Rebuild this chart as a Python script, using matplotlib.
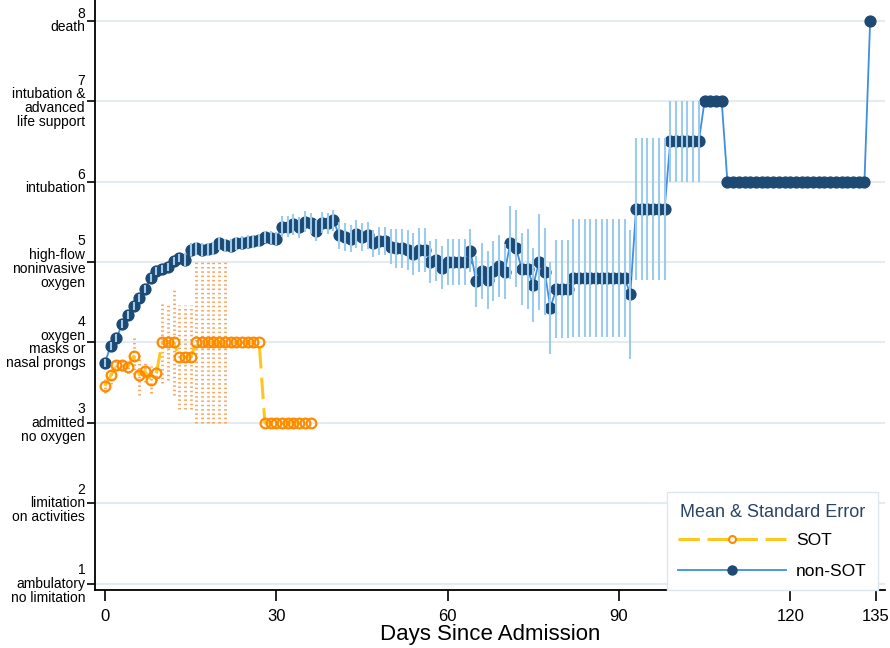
import matplotlib
matplotlib.use('Agg')
import matplotlib.pyplot as plt
from matplotlib.lines import Line2D

plt.rcParams['font.family'] = ['Liberation Sans', 'DejaVu Sans']

# y scale labels
levels = [1, 2, 3, 4, 5, 6, 7, 8]
level_names = ['ambulatory\nno limitation', 'limitation\non activities',
               'admitted\nno oxygen', 'oxygen\nmasks or\nnasal prongs',
               'high-flow\nnoninvasive\noxygen', 'intubation',
               'intubation &\nadvanced\nlife support', 'death']
xticks = [0, 30, 60, 90, 120, 135]

# SOT group: day, mean, standard error
sot_days = list(range(0, 37))
sot_mean = [3.46, 3.59, 3.72, 3.72, 3.70, 3.83, 3.60, 3.64, 3.54, 3.62,
            4.00, 4.00, 4.00, 3.82, 3.82, 3.82, 4.00, 4.00, 4.00, 4.00,
            4.00, 4.00, 4.00, 4.00, 4.00, 4.00, 4.00, 4.00, 3.00, 3.00,
            3.00, 3.00, 3.00, 3.00, 3.00, 3.00, 3.00]
sot_se = [0.09, 0.10, 0.08, 0.08, 0.08, 0.22, 0.25, 0.13, 0.17, 0.10,
          0.50, 0.47, 0.65, 0.65, 0.65, 0.65, 1.00, 1.00, 1.00, 1.00,
          1.00, 1.00, 0, 0, 0, 0, 0, 0, 0, 0,
          0, 0, 0, 0, 0, 0, 0]

# non-SOT group
non_days = list(range(0, 135))
non_mean = [3.75, 3.96, 4.05, 4.23, 4.34, 4.45, 4.55, 4.66, 4.80, 4.89,
            4.91, 4.94, 5.01, 5.05, 5.03, 5.15, 5.17, 5.15, 5.16, 5.17,
            5.23, 5.21, 5.20, 5.23, 5.24, 5.25, 5.26, 5.27, 5.31, 5.30,
            5.29, 5.44, 5.44, 5.47, 5.43, 5.50, 5.48, 5.39, 5.49, 5.48,
            5.52, 5.33, 5.31, 5.29, 5.35, 5.31, 5.33, 5.23, 5.26, 5.26,
            5.19, 5.17, 5.17, 5.15, 5.10, 5.15, 5.15, 5.00, 5.03, 4.93,
            5.00, 5.00, 5.00, 5.00, 5.14, 4.76, 4.89, 4.78, 4.89, 4.95,
            4.88, 5.24, 5.17, 4.91, 4.91, 4.71, 5.00, 4.88, 4.43, 4.66,
            4.66, 4.66, 4.80, 4.80, 4.80, 4.80, 4.80, 4.80, 4.80, 4.80,
            4.80, 4.80, 4.60, 5.66, 5.66, 5.66, 5.66, 5.66, 5.66, 6.50,
            6.50, 6.50, 6.50, 6.50, 6.50, 7.00, 7.00, 7.00, 7.00, 6.00,
            6.00, 6.00, 6.00, 6.00, 6.00, 6.00, 6.00, 6.00, 6.00, 6.00,
            6.00, 6.00, 6.00, 6.00, 6.00, 6.00, 6.00, 6.00, 6.00, 6.00,
            6.00, 6.00, 6.00, 6.00, 8.00]
non_se = [0.05, 0.05, 0.05, 0.05, 0.05, 0.05, 0.05, 0.05, 0.05, 0.05,
          0.05, 0.05, 0.05, 0.05, 0.08, 0.08, 0.08, 0.08, 0.08, 0.08,
          0.08, 0.08, 0.08, 0.08, 0.08, 0.08, 0.08, 0.08, 0.08, 0.08,
          0.08, 0.13, 0.13, 0.13, 0.13, 0.13, 0.13, 0.13, 0.13, 0.13,
          0.13, 0.17, 0.17, 0.17, 0.17, 0.17, 0.17, 0.17, 0.17, 0.17,
          0.22, 0.24, 0.24, 0.25, 0.26, 0.27, 0.27, 0.26, 0.26, 0.27,
          0.28, 0.28, 0.28, 0.28, 0.27, 0.32, 0.35, 0.36, 0.37, 0.39,
          0.34, 0.45, 0.48, 0.45, 0.50, 0.46, 0.60, 0.54, 0.57, 0.61,
          0.61, 0.61, 0.73, 0.73, 0.73, 0.73, 0.73, 0.73, 0.73, 0.73,
          0.73, 0.73, 0.80, 0.88, 0.88, 0.88, 0.88, 0.88, 0.88, 0.50,
          0.50, 0.50, 0.50, 0.50, 0.50, 0, 0, 0, 0, 0,
          0, 0, 0, 0, 0, 0, 0, 0, 0, 0,
          0, 0, 0, 0, 0, 0, 0, 0, 0, 0,
          0, 0, 0, 0, 0]

fig = plt.figure(figsize=(8.9, 6.48), dpi=100)
ax = fig.add_axes([95 / 890, 1 - 590 / 648, 790 / 890, 590 / 648])

for lv in levels:
    ax.axhline(lv, color='#e4ecf1', lw=1.5, zorder=0)

# SOT
sot_lo = [m - s for m, s in zip(sot_mean, sot_se)]
sot_hi = [m + s for m, s in zip(sot_mean, sot_se)]
ax.vlines(sot_days, sot_lo, sot_hi, colors='#f7a660', lw=2.0,
          linestyles=(0, (0.55, 1.0)), zorder=2)
ax.plot(sot_days, sot_mean, color='#ffc61e', lw=2.2, dashes=(7, 3),
        marker='o', ms=7, mfc='none', mec='#ff8a00', mew=1.6, zorder=4)

# non-SOT
non_lo = [m - s for m, s in zip(non_mean, non_se)]
non_hi = [m + s for m, s in zip(non_mean, non_se)]
ax.plot(non_days, non_mean, color='#3d8fe0', lw=1.3, marker='o', ms=7.8,
        mfc='#1c4a73', mec='#1c4a73', zorder=3)
ax.vlines(non_days, non_lo, non_hi, colors='#9dcbee', lw=1.5, zorder=5)

ax.set_xlim(-1.75, 136.6)
ax.set_ylim(0.925, 8.255)
ax.set_xticks(xticks)
ax.set_xticklabels([str(t) for t in xticks], fontsize=12)
ax.set_yticks(levels)
ax.set_yticklabels([f'{lv}\n{name}' for lv, name in zip(levels, level_names)],
                   fontsize=10, linespacing=0.97)
for lab in ax.get_yticklabels():
    lab.set_va('center')
    lab.set_multialignment('right')
ax.tick_params(axis='y', length=6, width=1.2, pad=1)
ax.tick_params(axis='x', length=8, width=1.2, pad=6)
ax.set_xlabel('Days Since Admission', fontsize=16, labelpad=0)

for side in ['top', 'right']:
    ax.spines[side].set_visible(False)
for side in ['left', 'bottom']:
    ax.spines[side].set_linewidth(1.3)

handles = [
    Line2D([], [], color='#ffc61e', lw=2.2, dashes=(7, 2.5), marker='o', ms=5,
           mfc='none', mec='#ff8a00', mew=1.5),
    Line2D([], [], color='#3d8fe0', lw=1.3, marker='o', ms=6.5,
           mfc='#1c4a73', mec='#1c4a73'),
]
leg = ax.legend(handles, ['SOT', 'non-SOT'], title='Mean & Standard Error',
                loc='lower right', bbox_to_anchor=(878 / 890, 1 - 590 / 648),
                bbox_transform=fig.transFigure, borderaxespad=0,
                fontsize=12.5, title_fontsize=13, handlelength=6.2,
                labelspacing=0.9, borderpad=0.65, handletextpad=0.6,
                fancybox=False, framealpha=1, edgecolor='#dde6ee')
leg._legend_box.sep = 0.7 * 12.5
leg.get_title().set_color('#2a4466')
leg.get_frame().set_linewidth(1.0)

fig.savefig('out.png', dpi=100)
